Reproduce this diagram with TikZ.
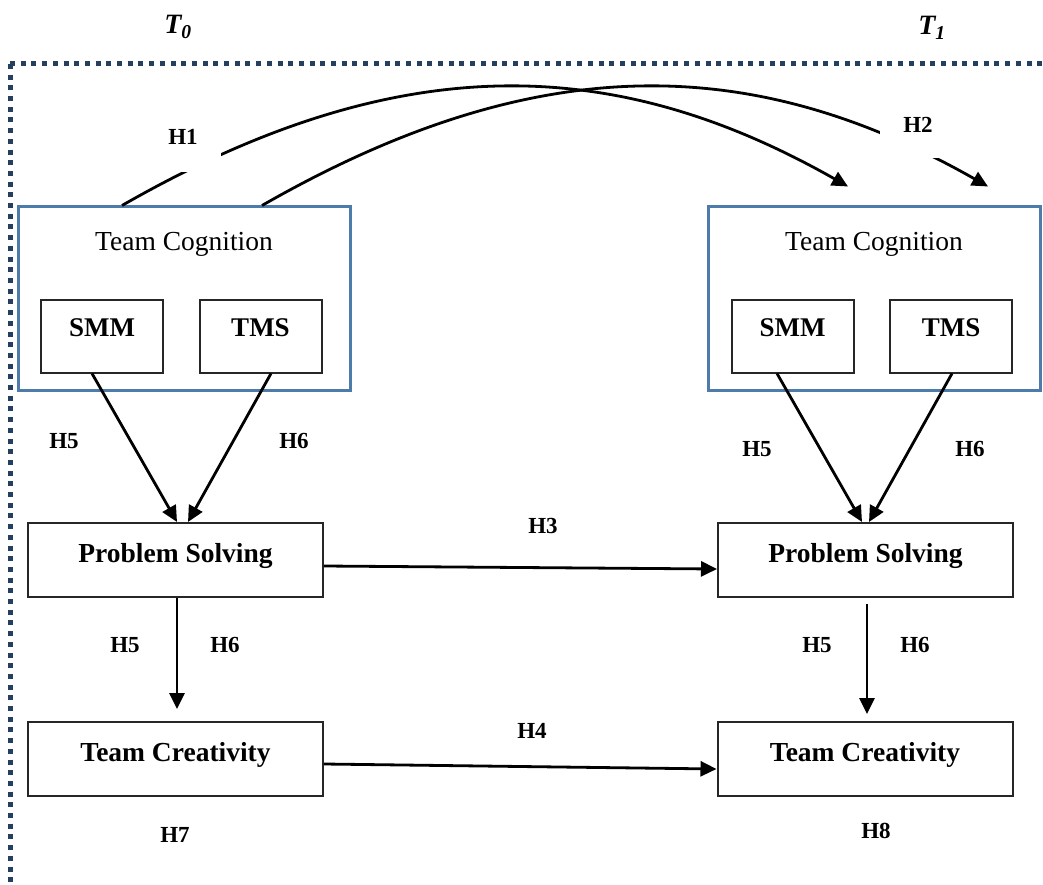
\documentclass[tikz,border=0pt]{standalone}
\usepackage{fontspec}
\setmainfont{Liberation Serif}
\usetikzlibrary{arrows.meta,calc}
\definecolor{dotblue}{HTML}{243F60}
\definecolor{tcblue}{HTML}{4D7BAA}
\begin{document}
\begin{tikzpicture}[x=1pt,y=-1pt,
  outerbox/.style={draw=tcblue, line width=3pt, minimum width=332pt, minimum height=183pt, inner sep=0pt,
    font=\fontsize{27.5}{30}\selectfont, text height=20pt, text depth=115pt},
  smallbox/.style={draw=black!85, line width=2pt, minimum width=122pt, minimum height=73pt, inner sep=0pt,
    font=\bfseries\fontsize{27}{30}\selectfont, text height=18pt, text depth=18pt},
  bigbox/.style={draw=black!85, line width=2pt, minimum width=295pt, minimum height=74pt, inner sep=0pt,
    font=\bfseries\fontsize{27.5}{30}\selectfont, text height=20pt, text depth=16pt},
  hlab/.style={font=\bfseries\fontsize{23}{26}\selectfont, inner sep=0pt},
  tlab/.style={font=\bfseries\itshape\fontsize{28}{30}\selectfont, inner sep=0pt},
  arr/.style={line width=2.8pt, -{Triangle[length=16pt,width=15pt]}},
  curve/.style={line width=2.8pt}
]
\useasboundingbox (0,0) rectangle (1043,885);
% dotted frame
\draw[dotblue, line width=5pt, dash pattern=on 5pt off 5.7pt] (10,64) -- (10,885);
\draw[dotblue, line width=5pt, dash pattern=on 5pt off 5.7pt] (10,64) -- (1043,64);

% time labels
\node[tlab] (t0) at (178,27) {T\textsubscript{0}};
\node[tlab] (t1) at (932,28) {T\textsubscript{1}};

% boxes
\node[outerbox] (tcog0) at (184,298.5) {Team Cognition};
\node[smallbox] (smm0) at (102,336) {SMM};
\node[smallbox] (tms0) at (260.5,336) {TMS};
\node[outerbox] (tcog1) at (874,298.5) {Team Cognition};
\node[smallbox] (smm1) at (792.5,336) {SMM};
\node[smallbox] (tms1) at (951,336) {TMS};
\node[bigbox] (ps0) at (175.5,560) {Problem Solving};
\node[bigbox] (ps1) at (865.5,560) {Problem Solving};
\node[bigbox] (tc0) at (175.5,759) {Team Creativity};
\node[bigbox] (tc1) at (865,759) {Team Creativity};

% curved arrows
\coordinate (e1) at ([xshift=-26pt,yshift=19pt]tcog1.north);
\coordinate (e2) at ([xshift=114pt,yshift=19pt]tcog1.north);
\draw[curve,-{Triangle[length=16pt,width=15pt]}] ([xshift=-62pt]tcog0.north) .. controls (402,45) and (618,56) .. (e1);
\draw[curve,-{Triangle[length=16pt,width=15pt]}] ([xshift=78pt]tcog0.north) .. controls (542,45) and (758,56) .. (e2);
\fill[white] (140,110) rectangle (221,172);
\fill[white] (880,100) rectangle (945,158);
\node[hlab] (h1) at (183,137) {H1};
\node[hlab] (h2) at (918,125) {H2};

% arrows into problem solving
\draw[arr] ([xshift=-10pt]smm0.south) -- ([xshift=1.5pt]ps0.north);
\draw[arr] ([xshift=10.5pt]tms0.south) -- ([xshift=12.5pt]ps0.north);
\draw[arr] ([xshift=-15.5pt]smm1.south) -- ([xshift=-3.5pt]ps1.north);
\draw[arr] ([xshift=1pt]tms1.south) -- ([xshift=3.5pt]ps1.north);

% vertical arrows
\draw[arr] ([xshift=1.5pt]ps0.south) -- ([xshift=1.5pt,yshift=12pt]tc0.north);
\draw[arr] ([xshift=1.5pt,yshift=-6pt]ps1.south) -- ([xshift=2pt,yshift=7pt]tc1.north);

% horizontal arrows
\draw[arr] ([yshift=-6pt]ps0.east) -- ([yshift=-9pt]ps1.west);
\draw[arr] ([yshift=-5pt]tc0.east) -- ([yshift=-10pt]tc1.west);

% hypothesis labels
\node[hlab] (h5a) at (64,441) {H5};
\node[hlab] (h6a) at (294,441) {H6};
\node[hlab] (h5b) at (757,449) {H5};
\node[hlab] (h6b) at (970,449) {H6};
\node[hlab] (h3) at (543,526) {H3};
\node[hlab] (h5c) at (125,645) {H5};
\node[hlab] (h6c) at (225,645) {H6};
\node[hlab] (h5d) at (817,645) {H5};
\node[hlab] (h6d) at (915,645) {H6};
\node[hlab] (h4) at (532,731) {H4};
\node[hlab] (h7) at (175,835) {H7};
\node[hlab] (h8) at (876,831) {H8};
\end{tikzpicture}
\end{document}
